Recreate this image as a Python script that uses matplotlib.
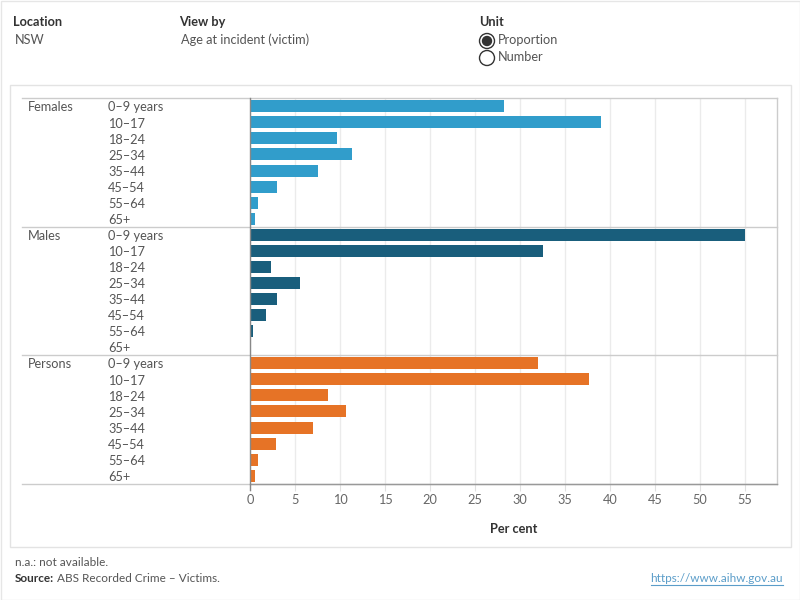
import matplotlib
matplotlib.use("Agg")
import matplotlib.pyplot as plt
from matplotlib.transforms import blended_transform_factory, offset_copy
from matplotlib.patches import Circle, Rectangle

plt.rcParams['font.family'] = ['Lato', 'DejaVu Sans']

# ---- data ----
age_groups = ["0–9 years", "10–17", "18–24", "25–34", "35–44", "45–54", "55–64", "65+"]
sexes = ["Females", "Males", "Persons"]
females = [28.2, 39.0, 9.7, 11.3, 7.6, 3.0, 0.9, 0.6]
males = [55.0, 32.6, 2.3, 5.5, 3.0, 1.8, 0.3, 0.0]
persons = [32.0, 37.7, 8.7, 10.7, 7.0, 2.9, 0.9, 0.6]
series = [females, males, persons]
colors = ["#319dcb", "#195e7c", "#e67326"]
x_ticks = [0, 5, 10, 15, 20, 25, 30, 35, 40, 45, 50, 55]
x_label = "Per cent"

W, H = 800, 600
fig = plt.figure(figsize=(8, 6), dpi=100)
fig.patch.set_facecolor("white")

def fx(x):
    return x / W

def fy(y):
    return 1 - y / H

# panel geometry (pixels)
left_px, right_px = 250, 777
bounds = [98, 227, 355, 484]

axes = []
for i, (vals, col) in enumerate(zip(series, colors)):
    top, bot = bounds[i], bounds[i + 1]
    ax = fig.add_axes([fx(left_px), fy(bot), fx(right_px) - fx(left_px), (bot - top) / H])
    ax.set_facecolor("none")
    ypos = list(range(len(age_groups)))
    ax.barh(ypos, vals, height=0.74, color=col, zorder=3)
    ax.set_xlim(0, 58.55)
    ax.set_ylim(len(age_groups) - 0.5, -0.5)
    ax.set_xticks(x_ticks)
    ax.grid(axis="x", color="#ebebeb", linewidth=1, zorder=0)
    ax.set_yticks([])
    for s in ax.spines.values():
        s.set_visible(False)
    trans = blended_transform_factory(fig.transFigure, ax.transData)
    trans = offset_copy(trans, fig=fig, y=-1.0, units="points")
    ax.text(fx(28), 0, sexes[i], transform=trans, ha="left", va="center",
            fontsize=9.2, color="#555555")
    for j, ag in enumerate(age_groups):
        ax.text(fx(108), j, ag, transform=trans, ha="left", va="center",
                fontsize=9.2, color="#555555")
    if i < 2:
        ax.tick_params(axis="x", length=0, labelbottom=False)
    else:
        ax.tick_params(axis="x", length=5, color="#e0e0e0", labelsize=9.2,
                       labelcolor="#666666", pad=2.5)
        ax.set_xlabel(x_label, fontsize=9.2, fontweight="bold", color="#333333", labelpad=12)
    axes.append(ax)

# overlay for frame, header and footer
ov = fig.add_axes([0, 0, 1, 1], zorder=10)
ov.set_xlim(0, W)
ov.set_ylim(H, 0)
ov.axis("off")
ov.patch.set_visible(False)

# outer borders
ov.add_patch(Rectangle((0.5, 0.5), W - 1, H - 1, fill=False, edgecolor="#e6e6e6", lw=1))
ov.add_patch(Rectangle((10, 85), 780.5, 462, fill=False, edgecolor="#e3e3e3", lw=1))

# plot frame lines
for y in bounds:
    ov.plot([22, right_px], [y, y], color="#cccccc", lw=1)
ov.plot([right_px, right_px], [98, 484], color="#cccccc", lw=1)
ov.plot([left_px, right_px], [484, 484], color="#999999", lw=1)
ov.plot([left_px, left_px], [98, 490], color="#888888", lw=1)

# header
hdr = dict(fontsize=9.2, fontweight="bold", color="#333333", va="center", ha="left")
val = dict(fontsize=9.2, color="#555555", va="center", ha="left")
ov.text(13, 22, "Location", **hdr)
ov.text(15, 40, "NSW", **val)
ov.text(179, 22, "View by", **hdr)
ov.text(181, 40, "Age at incident (victim)", **val)
ov.text(479, 22, "Unit", **hdr)
ov.add_patch(Circle((487, 41), 7.5, fill=False, edgecolor="#333333", lw=1))
ov.add_patch(Circle((487, 41), 4.5, color="#333333"))
ov.add_patch(Circle((487, 58), 7.5, fill=False, edgecolor="#333333", lw=1))
ov.text(498, 40, "Proportion", **val)
ov.text(498, 57, "Number", **val)

# footer
ov.text(15, 562, "n.a.: not available.", fontsize=8.5, color="#555555", va="center", ha="left")
t = ov.text(15, 578, "Source:", fontsize=8.5, fontweight="bold", color="#333333", va="center", ha="left")
fig.canvas.draw()
bb = t.get_window_extent()
x_end = bb.x1 / fig.dpi * 100  # pixels
ov.text(x_end + 3, 578, "ABS Recorded Crime – Victims.", fontsize=8.5, color="#555555",
        va="center", ha="left")
lk = ov.text(783, 578, "https://www.aihw.gov.au", fontsize=8.5, color="#5b9dc9",
             va="center", ha="right")
fig.canvas.draw()
lb = lk.get_window_extent()
ov.plot([lb.x0 / fig.dpi * 100, lb.x1 / fig.dpi * 100], [585, 585], color="#5b9dc9", lw=0.8)

fig.savefig("out.png", dpi=100)
